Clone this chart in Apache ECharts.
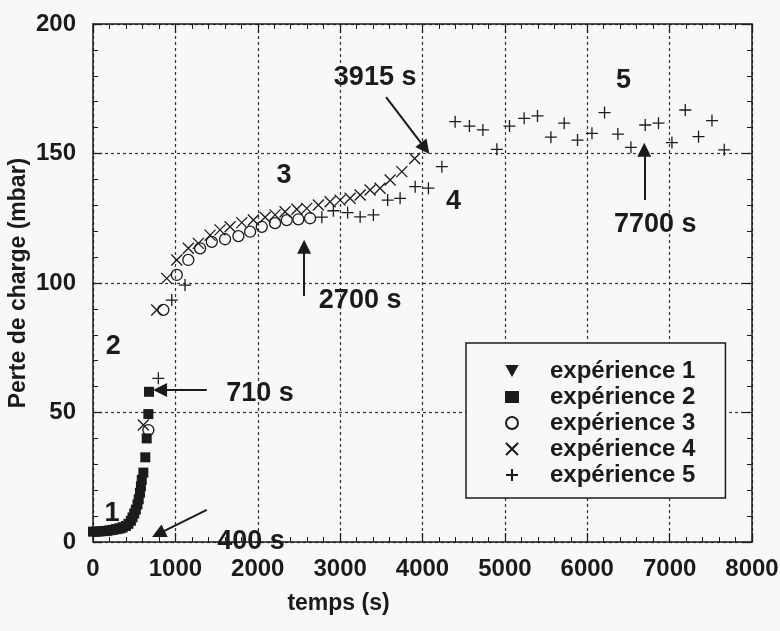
<!DOCTYPE html>
<html>
<head>
<meta charset="utf-8">
<script src="https://cdn.jsdelivr.net/npm/echarts@6/dist/echarts.min.js"></script>
<style>
  html, body { margin: 0; padding: 0; background: #f8f8f8; }
  #chart { width: 780px; height: 631px; }
</style>
</head>
<body>
<div id="chart"></div>
<script>
// temps (s) / perte de charge (mbar)
const exp1T = [0, 25, 50, 75, 100, 125, 150, 175, 200, 225, 250, 275, 300, 325, 350, 375, 400];
const exp1V = [3.6, 3.6, 3.7, 3.7, 3.8, 3.8, 3.9, 3.9, 4.0, 4.1, 4.2, 4.3, 4.4, 4.5, 4.6, 4.8, 5.0];

const exp2T = [0, 40, 80, 120, 160, 200, 240, 280, 320, 360, 400, 430, 460, 480, 500, 520, 540, 555, 570, 582, 592, 611, 635, 652, 672, 680];
const exp2V = [4.0, 4.0, 4.1, 4.2, 4.3, 4.5, 4.7, 5.0, 5.3, 5.7, 6.2, 7.0, 8.2, 9.5, 11, 12.5, 14.5, 16.5, 19, 21.5, 24, 26.8, 32.7, 40, 49.4, 58];

const exp3T = [672, 854, 1017, 1157, 1300, 1442, 1603, 1765, 1907, 2049, 2210, 2352, 2493, 2635];
const exp3V = [43.2, 89.6, 103.1, 108.9, 113.4, 115.9, 116.9, 118.1, 119.8, 121.7, 123.1, 124.3, 124.6, 125.0];

const exp4T = [611, 774, 895, 1017, 1157, 1279, 1421, 1542, 1664, 1806, 1947, 2089, 2210, 2332, 2474, 2595, 2736, 2878, 3000, 3121, 3243, 3364, 3485, 3607, 3749, 3905];
const exp4V = [45.2, 89.6, 101.8, 108.9, 113.4, 115.3, 118.5, 120.5, 121.7, 123.3, 124.3, 125.4, 126.3, 127.5, 128.5, 128.8, 130.1, 131.4, 132.0, 132.7, 134.0, 135.9, 136.6, 139.8, 143.0, 148.1];

const exp5T = [793, 956, 1117, 2778, 2918, 3091, 3243, 3404, 3577, 3728, 3911, 4072, 4235, 4396, 4570, 4733, 4903, 5056, 5234, 5396, 5559, 5720, 5882, 6057, 6210, 6372, 6530, 6704, 6865, 7028, 7190, 7351, 7514, 7663];
const exp5V = [63.2, 93.4, 99.2, 125.4, 127.9, 127.2, 125.5, 126.3, 132.0, 132.7, 137.2, 136.6, 144.9, 162.3, 160.6, 159.1, 151.6, 160.6, 163.6, 164.5, 156.3, 161.7, 155.2, 157.8, 165.8, 157.5, 152.4, 161.0, 161.7, 154.2, 166.8, 156.5, 162.7, 151.4];

const seriesNames = ['expérience 1', 'expérience 2', 'expérience 3', 'expérience 4', 'expérience 5'];

// textes posés sur la figure (temps, mbar)
const noteTexts = ['1', '2', '3', '4', '5', '3915 s', '2700 s', '7700 s', '710 s', '400 s'];
const noteT = [230, 247, 2320, 4376, 6440, 3425, 3243, 6825, 2028, 1919];
const noteV = [11.1, 75.4, 141.3, 131.4, 178.1, 179.2, 93.4, 122.4, 57.4, 0.0];

// flèches : départ -> pointe
const arrowFromT = [3558, 2563, 6692, 1381, 1381];
const arrowFromV = [171.8, 95, 132, 58.7, 12.4];
const arrowToT = [4032, 2563, 6692, 814, 793];
const arrowToV = [152, 114, 151.4, 58.7, 3.1];

const ink = '#1b1b1b';
const font = "'Liberation Sans', Arial, sans-serif";

const zip = (t, v) => t.map((x, i) => [x, v[i]]);

const mychart = echarts.init(document.getElementById('chart'));

function axisX(pos) {
  return {
    type: 'value', position: pos, min: 0, max: 8000, interval: 1000,
    axisLine: { show: true, onZero: false, lineStyle: { color: ink, width: 1.5 } },
    axisTick: { show: true, inside: true, length: 9, lineStyle: { color: ink, width: 1.2 } },
    minorTick: { show: true, splitNumber: 5, length: 5, lineStyle: { color: ink, width: 1 } },
    axisLabel: { show: pos === 'bottom', color: ink, fontSize: 24, fontWeight: 'bold', fontFamily: font, margin: 15,
      formatter: (v) => String(v) },
    splitLine: { show: pos === 'bottom', lineStyle: { color: '#333', type: [3, 3], width: 1.2 } },
  };
}
function axisY(pos) {
  return {
    type: 'value', position: pos, min: 0, max: 200, interval: 50,
    axisLine: { show: true, onZero: false, lineStyle: { color: ink, width: 1.5 } },
    axisTick: { show: true, inside: true, length: 9, lineStyle: { color: ink, width: 1.2 } },
    minorTick: { show: true, splitNumber: 5, length: 5, lineStyle: { color: ink, width: 1 } },
    axisLabel: { show: pos === 'left', color: ink, fontSize: 24, fontWeight: 'bold', fontFamily: font, margin: 17 },
    splitLine: { show: pos === 'left', lineStyle: { color: '#333', type: [3, 3], width: 1.2 } },
  };
}

const xBottom = axisX('bottom');
xBottom.name = 'temps (s)';
xBottom.nameLocation = 'middle';
xBottom.nameGap = 50;
xBottom.nameMoveOverlap = false;
xBottom.nameTextStyle = { color: ink, fontSize: 23, fontWeight: 'bold', fontFamily: font, padding: [0, 168, 0, 0] };
const yLeft = axisY('left');
yLeft.name = 'Perte de charge (mbar)';
yLeft.nameLocation = 'middle';
yLeft.nameGap = 63;
yLeft.nameMoveOverlap = false;
yLeft.nameTextStyle = { color: ink, fontSize: 23, fontWeight: 'bold', fontFamily: font };

const stroke = { color: 'transparent', borderColor: ink, borderWidth: 1.3, opacity: 1 };

const option = {
  backgroundColor: '#f8f8f8',
  animation: false,
  grid: { left: 93, right: 28, top: 24, bottom: 89, containLabel: false, outerBoundsMode: 'none' },
  xAxis: [xBottom, axisX('top')],
  yAxis: [yLeft, axisY('right')],
  legend: {
    data: seriesNames,
    orient: 'vertical',
    left: 466, top: 343,
    backgroundColor: '#f8f8f8',
    borderColor: ink, borderWidth: 1.5, borderRadius: 0,
    padding: [16, 30, 11, 39],
    itemWidth: 14, itemHeight: 12, itemGap: 2,
    textStyle: { color: ink, fontSize: 24, fontWeight: 'bold', fontFamily: font, padding: [0, 0, 0, 26] },
    selectedMode: false,
  },
  series: [
    { name: seriesNames[0], type: 'scatter', symbol: 'path://M0,0L10,0L5,9Z', symbolSize: [10, 9],
      itemStyle: { color: ink, opacity: 1 }, data: zip(exp1T, exp1V) },
    { name: seriesNames[1], type: 'scatter', symbol: 'rect', symbolSize: 10,
      itemStyle: { color: ink, opacity: 1 }, data: zip(exp2T, exp2V) },
    { name: seriesNames[2], type: 'scatter', symbol: 'circle', symbolSize: 11,
      itemStyle: stroke, data: zip(exp3T, exp3V) },
    { name: seriesNames[3], type: 'scatter', symbol: 'path://M0,0L10,10M10,0L0,10', symbolSize: 11,
      itemStyle: stroke, data: zip(exp4T, exp4V) },
    { name: seriesNames[4], type: 'scatter', symbol: 'path://M5,0L5,10M0,5L10,5', symbolSize: 12,
      itemStyle: stroke, data: zip(exp5T, exp5V) },
    {
      name: 'notes', type: 'scatter', data: [], silent: true,
      markPoint: {
        symbol: 'circle', symbolSize: 1, itemStyle: { color: 'transparent' },
        label: { show: true, position: 'inside', formatter: '{b}', color: ink, fontSize: 27, fontWeight: 'bold', fontFamily: font },
        data: noteTexts.map((s, i) => ({ name: s, coord: [noteT[i], noteV[i]] })),
      },
      markLine: {
        symbol: ['none', 'triangle'], symbolSize: 14,
        lineStyle: { color: ink, width: 2, type: 'solid', opacity: 1 },
        itemStyle: { color: ink },
        label: { show: false },
        data: arrowFromT.map((t, i) => [{ coord: [t, arrowFromV[i]] }, { coord: [arrowToT[i], arrowToV[i]] }]),
      },
    },
  ],
};

mychart.setOption(option);
</script>
</body>
</html>
